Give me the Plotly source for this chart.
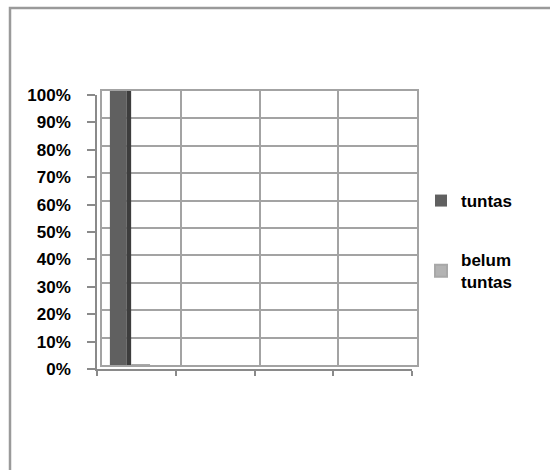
import plotly.graph_objects as go

# ---- data ----
categories = [1, 2, 3, 4]
tuntas = [1.0, None, None, None]
belum_tuntas = [0.0, None, None, None]
y_ticks = [0, 0.1, 0.2, 0.3, 0.4, 0.5, 0.6, 0.7, 0.8, 0.9, 1.0]
y_tick_labels = ["0%", "10%", "20%", "30%", "40%", "50%", "60%", "70%", "80%", "90%", "100%"]
cat_edges = [0.5, 1.5, 2.5, 3.5, 4.5]

W, H = 550, 470
FONT = "Liberation Sans"
GRID = "#a3a3a3"

def px_x(a, b):
    return [a / W, b / W]

def px_y(top, bottom):
    return [1 - bottom / H, 1 - top / H]

fig = go.Figure()

# front face of bars
fig.add_trace(go.Bar(
    x=categories, y=tuntas, name="tuntas",
    marker=dict(color="#606060", line=dict(width=0)),
    offset=-0.40, width=0.215, legendgroup="a",
    xaxis="x", yaxis="y",
))
# side face (3D shading) of same bars
fig.add_trace(go.Bar(
    x=categories, y=tuntas, name="tuntas side", showlegend=False,
    marker=dict(color="#3d3d3d", line=dict(width=0)),
    offset=-0.185, width=0.055,
    xaxis="x", yaxis="y", hoverinfo="skip",
))
fig.add_trace(go.Bar(
    x=categories, y=belum_tuntas, name="belum<br>tuntas",
    marker=dict(color="#b3b3b3", line=dict(width=2, color="#a8a8a8")),
    offset=-0.13, width=0.24, legendgroup="b",
    xaxis="x", yaxis="y",
))

fig.update_layout(
    width=W, height=H,
    margin=dict(l=0, r=0, t=0, b=0, pad=0, autoexpand=False),
    paper_bgcolor="white", plot_bgcolor="rgba(0,0,0,0)",
    barmode="overlay",
    font=dict(family=FONT, size=16, color="#000000"),
    showlegend=True,
    legend=dict(
        x=421 / W, y=1 - 183 / H, xanchor="left", yanchor="top",
        font=dict(family=FONT, size=17, color="#000000", weight="bold"),
        tracegroupgap=34, bgcolor="rgba(0,0,0,0)",
    ),
    # back wall grid
    xaxis=dict(
        domain=px_x(102, 417), range=[0.5, 4.5], anchor="y",
        tickvals=cat_edges, showticklabels=False, ticks="",
        showgrid=True, gridcolor=GRID, gridwidth=2,
        showline=True, linecolor=GRID, linewidth=2, mirror=True,
        zeroline=False, fixedrange=True, automargin=False,
    ),
    yaxis=dict(
        domain=px_y(91, 365), range=[0, 1], anchor="x",
        tickvals=y_ticks, showticklabels=False, ticks="",
        showgrid=True, gridcolor=GRID, gridwidth=2,
        showline=True, linecolor=GRID, linewidth=2, mirror=True,
        zeroline=False, fixedrange=True, automargin=False,
    ),
    # front axes with ticks and labels
    xaxis2=dict(
        domain=px_x(97, 412), range=[0.5, 4.5], anchor="y2",
        tickvals=cat_edges, showticklabels=False, ticks="outside",
        ticklen=5, tickcolor="#8a8a8a", tickwidth=1.5,
        showgrid=False, showline=True, linecolor="#8a8a8a", linewidth=1.5,
        zeroline=False, fixedrange=True, automargin=False,
    ),
    yaxis2=dict(
        domain=px_y(95, 369), range=[0, 1], anchor="x2",
        tickvals=y_ticks, ticktext=y_tick_labels, ticks="outside",
        ticklen=8, tickcolor="#8a8a8a", tickwidth=1.5, ticklabelstandoff=13,
        tickfont=dict(family=FONT, size=17, color="#000000", weight="bold"),
        showgrid=False, showline=True, linecolor="#8a8a8a", linewidth=1.5,
        zeroline=False, fixedrange=True, automargin=False,
    ),
    shapes=[dict(
        type="rect", xref="paper", yref="paper",
        x0=10 / W, x1=1.02, y0=-0.02, y1=1 - 8 / H,
        line=dict(color="#9a9a9a", width=2.5), fillcolor="rgba(0,0,0,0)",
    )],
)

# invisible trace to make the front axes render
fig.add_trace(go.Scatter(x=[None], y=[None], xaxis="x2", yaxis="y2",
                         showlegend=False, hoverinfo="skip"))

fig.write_html("out.html")
